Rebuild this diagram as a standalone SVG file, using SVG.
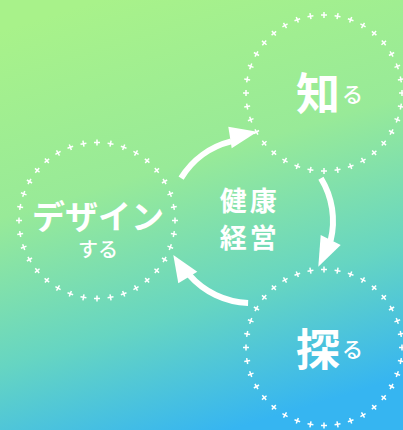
<svg xmlns="http://www.w3.org/2000/svg" xmlns:xlink="http://www.w3.org/1999/xlink" width="403" height="430" viewBox="0 0 403 430">
<style>
.pl{stroke:#fff;stroke-width:1.5;fill:none}
.t{fill:#fff;font-family:"Noto Sans CJK JP","Noto Sans",sans-serif}
.b{font-weight:700}
.m{font-weight:500}
.arc{fill:none;stroke:#fff;stroke-width:6}
.ah{fill:#fff}
</style>
<defs>
<linearGradient id="bg" gradientUnits="userSpaceOnUse" x1="100" y1="0" x2="230" y2="430">
<stop offset="0" stop-color="#a8f28a"/>
<stop offset="0.4" stop-color="#98ea98"/>
<stop offset="0.72" stop-color="#66d5c2"/>
<stop offset="1" stop-color="#36b5f1"/>
</linearGradient>
<path id="pl" class="pl" d="M-3 0H3M0 -3V3"/>
<g id="ring">
<use href="#pl" transform="rotate(0) translate(0,-78)"/>
<use href="#pl" transform="rotate(10) translate(0,-78)"/>
<use href="#pl" transform="rotate(20) translate(0,-78)"/>
<use href="#pl" transform="rotate(30) translate(0,-78)"/>
<use href="#pl" transform="rotate(40) translate(0,-78)"/>
<use href="#pl" transform="rotate(50) translate(0,-78)"/>
<use href="#pl" transform="rotate(60) translate(0,-78)"/>
<use href="#pl" transform="rotate(70) translate(0,-78)"/>
<use href="#pl" transform="rotate(80) translate(0,-78)"/>
<use href="#pl" transform="rotate(90) translate(0,-78)"/>
<use href="#pl" transform="rotate(100) translate(0,-78)"/>
<use href="#pl" transform="rotate(110) translate(0,-78)"/>
<use href="#pl" transform="rotate(120) translate(0,-78)"/>
<use href="#pl" transform="rotate(130) translate(0,-78)"/>
<use href="#pl" transform="rotate(140) translate(0,-78)"/>
<use href="#pl" transform="rotate(150) translate(0,-78)"/>
<use href="#pl" transform="rotate(160) translate(0,-78)"/>
<use href="#pl" transform="rotate(170) translate(0,-78)"/>
<use href="#pl" transform="rotate(180) translate(0,-78)"/>
<use href="#pl" transform="rotate(190) translate(0,-78)"/>
<use href="#pl" transform="rotate(200) translate(0,-78)"/>
<use href="#pl" transform="rotate(210) translate(0,-78)"/>
<use href="#pl" transform="rotate(220) translate(0,-78)"/>
<use href="#pl" transform="rotate(230) translate(0,-78)"/>
<use href="#pl" transform="rotate(240) translate(0,-78)"/>
<use href="#pl" transform="rotate(250) translate(0,-78)"/>
<use href="#pl" transform="rotate(260) translate(0,-78)"/>
<use href="#pl" transform="rotate(270) translate(0,-78)"/>
<use href="#pl" transform="rotate(280) translate(0,-78)"/>
<use href="#pl" transform="rotate(290) translate(0,-78)"/>
<use href="#pl" transform="rotate(300) translate(0,-78)"/>
<use href="#pl" transform="rotate(310) translate(0,-78)"/>
<use href="#pl" transform="rotate(320) translate(0,-78)"/>
<use href="#pl" transform="rotate(330) translate(0,-78)"/>
<use href="#pl" transform="rotate(340) translate(0,-78)"/>
<use href="#pl" transform="rotate(350) translate(0,-78)"/>
</g>
</defs>
<rect width="403" height="430" fill="url(#bg)"/>

<g id="node-shiru">
<use href="#ring" transform="translate(324,93)"/>
<text class="t b" x="296" y="110" font-size="44">知</text>
<text class="t m" x="342" y="102" font-size="21">る</text>
</g>

<g id="node-saguru">
<use href="#ring" transform="translate(324,347.5)"/>
<text class="t b" x="296" y="366" font-size="44">探</text>
<text class="t m" x="342" y="357" font-size="21">る</text>
</g>

<g id="node-design">
<use href="#ring" transform="translate(97,220.5)"/>
<text class="t" text-anchor="middle"><tspan class="b" x="98" y="229" font-size="33">デザイン</tspan><tspan class="m" x="98" y="257" font-size="20">する</tspan></text>
</g>

<g id="node-center">
<text class="t b" x="233.3 263.3" y="211" font-size="27" text-anchor="middle">健康</text>
<text class="t b" x="233.3 263.3" y="248" font-size="27" text-anchor="middle">経営</text>
</g>

<g id="connectors">
<path class="arc" d="M181.1 178.1 A82 82 0 0 1 231.2 141.4"/>
<polygon class="ah" points="257.3,131.7 228.3,126.7 231.7,148.3"/>
<path class="arc" d="M320.9 178.2 A82 82 0 0 1 330.6 240.8"/>
<polygon class="ah" points="318.3,266.7 320.7,235 340.7,245"/>
<path class="arc" d="M248.1 303 A82 82 0 0 1 189.1 274.8"/>
<polygon class="ah" points="173.3,255 178.3,283.3 197.3,271.7"/>
</g>
</svg>
